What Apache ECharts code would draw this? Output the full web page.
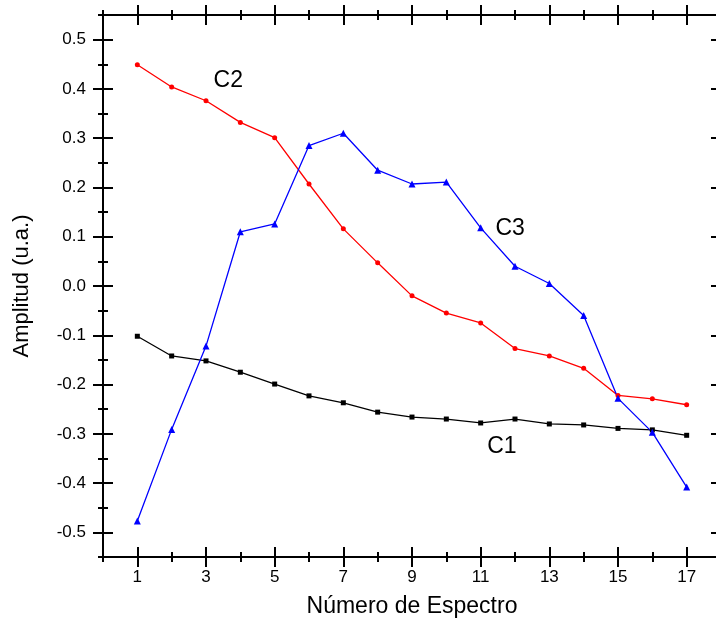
<!DOCTYPE html>
<html>
<head>
<meta charset="utf-8">
<script src="https://cdn.jsdelivr.net/npm/echarts@6/dist/echarts.min.js"></script>
<style>html,body{margin:0;padding:0;background:#fff}#c{width:716px;height:621px}</style>
</head>
<body>
<div id="c"></div>
<script>
const spectra = [1,2,3,4,5,6,7,8,9,10,11,12,13,14,15,16,17];
const c1 = [-0.102,-0.142,-0.152,-0.175,-0.199,-0.223,-0.237,-0.256,-0.266,-0.270,-0.278,-0.270,-0.280,-0.282,-0.289,-0.292,-0.303];
const c2 = [0.449,0.404,0.376,0.332,0.301,0.207,0.116,0.047,-0.020,-0.055,-0.075,-0.127,-0.142,-0.167,-0.222,-0.229,-0.241];
const c3 = [-0.477,-0.291,-0.122,0.110,0.126,0.285,0.310,0.235,0.207,0.211,0.118,0.040,0.005,-0.060,-0.228,-0.297,-0.408];
const xMajor = [1,3,5,7,9,11,13,15,17];
const xMinor = [0,2,4,6,8,10,12,14,16,18];
const yMajor = [-0.5,-0.4,-0.3,-0.2,-0.1,0,0.1,0.2,0.3,0.4,0.5];
const yMinor = [-0.55,-0.45,-0.35,-0.25,-0.15,-0.05,0.05,0.15,0.25,0.35,0.45,0.55];
const labels = [
  {name:'C2', x:3.65, y:0.417},
  {name:'C3', x:11.86, y:0.116},
  {name:'C1', x:11.62, y:-0.327}
];

const FONT = 'Liberation Sans, Arial, sans-serif';
const chart = echarts.init(document.getElementById('c'));
const pairs = arr => spectra.map((s,i)=>[s,arr[i]]);

function xAx(pos, vals, len, inside, showLine, showLabel) {
  return {
    type:'value', min:0, max:18, position:pos, gridIndex:0,
    axisLine:{show:showLine, onZero:false, lineStyle:{color:'#000', width:2}},
    axisTick:{show:true, inside:inside, length:len, customValues:vals, lineStyle:{color:'#000', width:2}},
    axisLabel:{show:showLabel, customValues:xMajor, color:'#000', fontSize:17, fontFamily:FONT, margin:12},
    splitLine:{show:false}
  };
}
function yAx(pos, vals, len, inside, showLine, showLabel) {
  return {
    type:'value', min:-0.55, max:0.55, position:pos, gridIndex:0,
    axisLine:{show:showLine, onZero:false, lineStyle:{color:'#000', width:2}},
    axisTick:{show:true, inside:inside, length:len, customValues:vals, lineStyle:{color:'#000', width:2}},
    axisLabel:{show:showLabel, customValues:yMajor, color:'#000', fontSize:17, fontFamily:FONT, margin:17,
      formatter: v => v.toFixed(1)},
    splitLine:{show:false}
  };
}

const xAxes = [
  Object.assign(xAx('bottom', xMajor, 10, false, true, true), {
    name:'Número de Espectro', nameLocation:'middle', nameGap:38,
    nameTextStyle:{color:'#000', fontSize:23, fontFamily:FONT}
  }),
  xAx('bottom', xMajor, 10, true, false, false),
  xAx('bottom', xMinor, 5, false, false, false),
  xAx('bottom', xMinor, 5, true, false, false),
  xAx('top', xMajor, 10, false, true, false),
  xAx('top', xMajor, 10, true, false, false),
  xAx('top', xMinor, 5, false, false, false),
  xAx('top', xMinor, 5, true, false, false)
];
const yAxes = [
  Object.assign(yAx('left', yMajor, 10, false, true, true), {
    name:'Amplitud (u.a.)', nameLocation:'middle', nameGap:70, nameRotate:90,
    nameTextStyle:{color:'#000', fontSize:22, fontFamily:FONT}
  }),
  yAx('left', yMajor, 10, true, false, false),
  yAx('left', yMinor, 5, false, false, false),
  yAx('left', yMinor, 5, true, false, false),
  yAx('right', yMajor, 10, true, true, false)
];

function lineSeries(name, data, color, symbol, size) {
  return {
    type:'line', name:name, data:pairs(data), xAxisIndex:0, yAxisIndex:0,
    symbol:symbol, symbolSize:size, showAllSymbol:true,
    lineStyle:{color:color, width:1.3}, itemStyle:{color:color},
    animation:false, z:3
  };
}

chart.setOption({
  backgroundColor:'#fff',
  animation:false,
  grid:{left:103, top:15, width:618, height:542, containLabel:false, outerBoundsMode:'none'},
  xAxis:xAxes,
  yAxis:yAxes,
  series:[
    lineSeries('C1', c1, '#000000', 'rect', 5),
    lineSeries('C2', c2, '#ff0000', 'circle', 5),
    lineSeries('C3', c3, '#0000ff', 'triangle', 7),
    {
      type:'scatter', xAxisIndex:0, yAxisIndex:0, symbol:'circle', symbolSize:0,
      itemStyle:{color:'#000'},
      data: labels.map(l => ({name:l.name, value:[l.x, l.y]})),
      label:{show:true, position:'inside', formatter: p => p.name, color:'#000',
        textBorderWidth:0, opacity:1, fontSize:23, fontFamily:FONT},
      emphasis:{disabled:true},
      silent:true, z:5
    }
  ]
});
</script>
</body>
</html>
